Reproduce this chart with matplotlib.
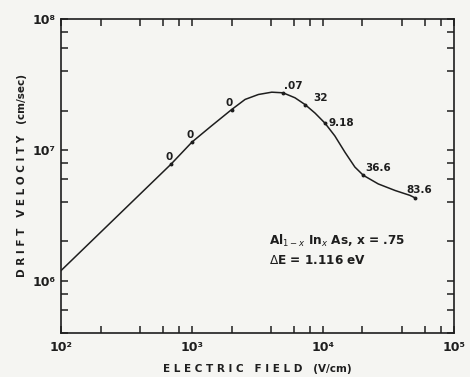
import math
import matplotlib
matplotlib.use("Agg")
import matplotlib.pyplot as plt
from matplotlib.ticker import LogLocator, NullFormatter, FuncFormatter

# velocity-field curve
field = [100, 692, 1000, 1400, 2000, 2540, 3210, 4060, 4950, 6110, 7290, 8690,
         10350, 12300, 14700, 17500, 20300, 26400, 35500, 46000, 50500]
velocity = [1.2e6, 7.8e6, 1.15e7, 1.52e7, 2.03e7, 2.43e7, 2.65e7, 2.76e7, 2.73e7, 2.5e7, 2.22e7, 1.91e7,
            1.6e7, 1.28e7, 9.6e6, 7.4e6, 6.4e6, 5.5e6, 4.9e6, 4.5e6, 4.3e6]

# marked points and their labels
pt_field = [692, 1000, 2000, 4950, 7290, 10350, 20300, 50500]
pt_vel = [7.8e6, 1.15e7, 2.03e7, 2.73e7, 2.22e7, 1.6e7, 6.4e6, 4.3e6]
pt_text = ["0", "0", "0", ".07", "32", "9.18", "36.6", "83.6"]
pt_offset = [(-2, 7), (-2, 7), (-2, 7), (1, 7), (8, 7), (3, 0), (2, 7), (-9, 8)]
pt_ha = ["center", "center", "center", "left", "left", "left", "left", "left"]

ink = "#1e1e1e"
bg = "#f5f5f2"
sup = str.maketrans("0123456789-", "⁰¹²³⁴⁵⁶⁷⁸⁹⁻")

fig = plt.figure(figsize=(4.7, 3.77), dpi=100, facecolor=bg)
ax = fig.add_axes([0.13, 0.1167, 0.836, 0.833], facecolor=bg)

ax.plot(field, velocity, color=ink, linewidth=1.1)
ax.plot(pt_field, pt_vel, "o", color=ink, markersize=1.8)

for x, y, t, (dx, dy), ha in zip(pt_field, pt_vel, pt_text, pt_offset, pt_ha):
    ax.annotate(t, (x, y), xytext=(dx * 0.72, dy * 0.72), textcoords="offset points",
                ha=ha, va="center", fontsize=7.5, fontweight="bold", color=ink)

ax.set_xscale("log")
ax.set_yscale("log")
ax.set_xlim(100, 1e5)
ax.set_ylim(4e5, 1e8)

decade = FuncFormatter(lambda v, p: "10" + str(int(round(math.log10(v)))).translate(sup))
for axis in (ax.xaxis, ax.yaxis):
    axis.set_major_locator(LogLocator(base=10))
    axis.set_major_formatter(decade)
    axis.set_minor_locator(LogLocator(base=10, subs=[2, 4, 6, 8]))
    axis.set_minor_formatter(NullFormatter())

ax.tick_params(which="both", direction="in", top=True, right=True,
               length=5, width=1.1, color=ink, labelcolor=ink, labelsize=9)
ax.tick_params(axis="x", pad=6)
ax.tick_params(axis="y", pad=4)
for lab in ax.get_xticklabels() + ax.get_yticklabels():
    lab.set_fontweight("bold")
for s in ax.spines.values():
    s.set_color(ink)
    s.set_linewidth(1.2)

ax.set_xlabel("E L E C T R I C   F I E L D   (V/cm)", fontsize=7.5, fontweight="bold",
              color=ink, labelpad=7)
ax.set_ylabel("D R I F T   V E L O C I T Y   (cm/sec)", fontsize=7.5, fontweight="bold",
              color=ink, labelpad=4)

ax.text(0.53, 0.292, r"Al$_{1-x}$ In$_x$ As, x = .75", transform=ax.transAxes,
        fontsize=8.7, fontweight="bold", color=ink, va="center")
ax.text(0.53, 0.23, r"$\Delta$E = 1.116 eV", transform=ax.transAxes,
        fontsize=8.7, fontweight="bold", color=ink, va="center")

fig.savefig("out.png", dpi=100, facecolor=bg)
